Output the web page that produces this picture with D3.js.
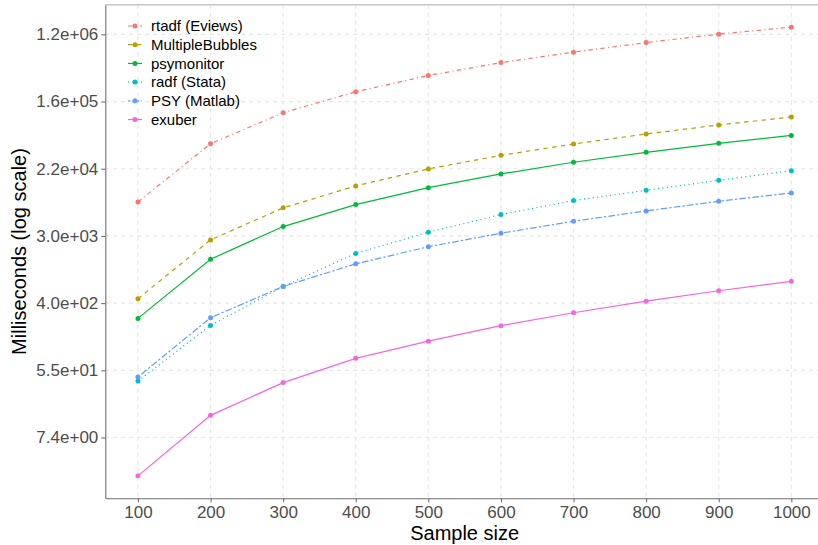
<!DOCTYPE html>
<html>
<head>
<meta charset="utf-8">
<script src="https://cdn.jsdelivr.net/npm/d3@7"></script>
<style>
  body { margin: 0; background: #fff; }
  svg { display: block; font-family: "Liberation Sans", Arial, sans-serif; }
</style>
</head>
<body>
<svg id="chart" width="818" height="545"></svg>
<script>
//
// Data (milliseconds)
//
const sampleSizes = [100, 200, 300, 400, 500, 600, 700, 800, 900, 1000];

const rtadfEviews = [8200, 46400, 116800, 217600, 353000, 519000, 708000, 942000, 1210000, 1490000];
const multipleBubbles = [460, 2650, 6870, 13200, 21900, 32800, 46000, 62000, 81000, 102700];
const psymonitor = [256, 1490, 3940, 7580, 12550, 18880, 26700, 35900, 46900, 59400];
const radfStata = [39.7, 208, 662, 1770, 3330, 5630, 8540, 11600, 15600, 20800];
const psyMatlab = [44.8, 261, 662, 1300, 2160, 3230, 4610, 6280, 8360, 10730];
const exuber = [2.36, 14.3, 37.9, 78, 130, 206, 303, 428, 583, 771];

const seriesNames = ["rtadf (Eviews)", "MultipleBubbles", "psymonitor", "radf (Stata)", "PSY (Matlab)", "exuber"];
const seriesValues = [rtadfEviews, multipleBubbles, psymonitor, radfStata, psyMatlab, exuber];

// natural-log ticks e^2 .. e^14
const yTickExponents = [2, 4, 6, 8, 10, 12, 14];
const yTickLabels = ["7.4e+00", "5.5e+01", "4.0e+02", "3.0e+03", "2.2e+04", "1.6e+05", "1.2e+06"];

//
// Styles
//
const colors = ["#F8766D", "#B79F00", "#00BA38", "#00BFC4", "#619CFF", "#F564E3"];
const dashes = ["4.4,3.3,1.1,3.3", "4.4,4.4", null, "1.1,3.3", "2.2,2.2,6.6,2.2", null];

const series = seriesNames.map((name, i) => ({
  name: name,
  color: colors[i],
  dash: dashes[i],
  points: sampleSizes.map((n, j) => ({ n: n, ms: seriesValues[i][j] })),
}));

const margin = { top: 4.7, right: -6, bottom: 46.7, left: 105.3 };
const svg = d3.select("#chart");
const W = +svg.attr("width"), H = +svg.attr("height");
const innerW = W - margin.left - margin.right;
const innerH = H - margin.top - margin.bottom;

// ggplot-like 5% expansion
const xExt = d3.extent(sampleSizes);
const xPad = (xExt[1] - xExt[0]) * 0.05;
const x = d3.scaleLinear().domain([xExt[0] - xPad, xExt[1] + xPad]).range([0, innerW]);

const allVals = seriesValues.flat();
const lnExt = d3.extent(allVals).map(Math.log);
const lnPad = (lnExt[1] - lnExt[0]) * 0.05;
const y = d3.scaleLog()
  .base(Math.E)
  .domain([Math.exp(lnExt[0] - lnPad), Math.exp(lnExt[1] + lnPad)])
  .range([innerH, 0]);
const yTicks = yTickExponents.map(Math.exp);

const g = svg.append("g").attr("transform", `translate(${margin.left},${margin.top})`);

// grid
const grid = g.append("g").attr("stroke", "#e6e6e6").attr("stroke-width", 1.2).attr("stroke-dasharray", "4,4");
grid.selectAll("line.h").data(yTicks).enter().append("line")
  .attr("x1", 0).attr("x2", innerW)
  .attr("y1", (d) => y(d)).attr("y2", (d) => y(d));
grid.selectAll("line.v").data(sampleSizes).enter().append("line")
  .attr("y1", 0).attr("y2", innerH)
  .attr("x1", (d) => x(d)).attr("x2", (d) => x(d));

// panel border (top) and axes
g.append("line").attr("x1", 0).attr("x2", innerW).attr("y1", 0).attr("y2", 0)
  .attr("stroke", "#c4c4c4").attr("stroke-width", 1.5);

const xAxis = g.append("g")
  .attr("transform", `translate(0,${innerH})`)
  .call(d3.axisBottom(x).tickValues(sampleSizes).tickSize(4).tickSizeOuter(0).tickPadding(4).tickFormat(d3.format("d")));
const yAxis = g.append("g")
  .call(d3.axisLeft(y).tickValues(yTicks).tickSize(4).tickSizeOuter(0).tickPadding(3).tickFormat((d, i) => yTickLabels[i]));

[xAxis, yAxis].forEach((ax) => {
  ax.select(".domain").attr("stroke", "#6e6e6e").attr("stroke-width", 1.1);
  ax.selectAll(".tick line").attr("stroke", "#6e6e6e").attr("stroke-width", 1.1);
  ax.selectAll(".tick text")
    .attr("fill", "#4d4d4d")
    .style("font-size", "17px")
    .style("font-family", "'Liberation Sans', Arial, sans-serif");
});

// lines + points
const line = d3.line().x((d) => x(d.n)).y((d) => y(d.ms));
const sg = g.selectAll("g.series").data(series).enter().append("g").attr("class", "series");
sg.append("path")
  .attr("d", (d) => line(d.points))
  .attr("fill", "none")
  .attr("stroke", (d) => d.color)
  .attr("stroke-width", 1.2)
  .attr("stroke-dasharray", (d) => d.dash);
sg.selectAll("circle")
  .data((d) => d.points.map((p) => ({ ...p, color: d.color })))
  .enter()
  .append("circle")
  .attr("cx", (d) => x(d.n))
  .attr("cy", (d) => y(d.ms))
  .attr("r", 2.5)
  .attr("fill", (d) => d.color);

// legend (inside panel, top-left)
const legend = svg.append("g").attr("transform", "translate(128,26)");
const item = legend.selectAll("g").data(series).enter().append("g")
  .attr("transform", (d, i) => `translate(0,${i * 18.7})`);
item.append("line")
  .attr("x1", 0).attr("x2", 14).attr("y1", 0).attr("y2", 0)
  .attr("stroke", (d) => d.color)
  .attr("stroke-width", 1.2)
  .attr("stroke-dasharray", (d) => d.dash);
item.append("circle").attr("cx", 7).attr("cy", 0).attr("r", 2.5).attr("fill", (d) => d.color);
item.append("text")
  .attr("x", 23).attr("y", 0).attr("dy", "0.35em")
  .style("font-size", "15px")
  .attr("fill", "#000")
  .text((d) => d.name);

// axis titles
svg.append("text")
  .attr("x", margin.left + x((xExt[0] + xExt[1]) / 2))
  .attr("y", 540)
  .attr("text-anchor", "middle")
  .style("font-size", "20px")
  .text("Sample size");
svg.append("text")
  .attr("transform", `translate(26,${margin.top + innerH / 2}) rotate(-90)`)
  .attr("text-anchor", "middle")
  .style("font-size", "20px")
  .text("Milliseconds (log scale)");
</script>
</body>
</html>
